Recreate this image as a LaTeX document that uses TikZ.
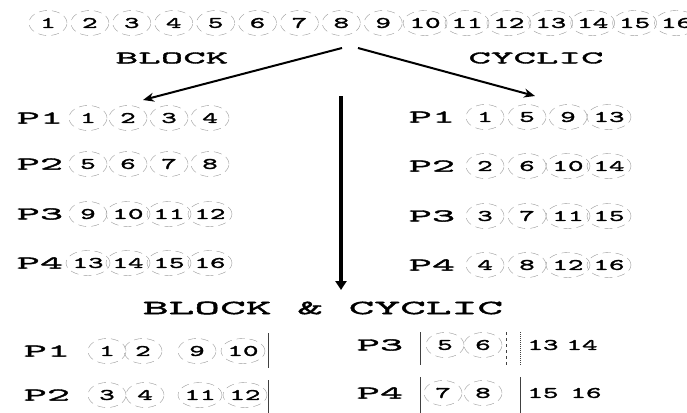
\documentclass[tikz,border=0pt]{standalone}
\usepackage{fontspec}
\usepackage{tikz}
\usetikzlibrary{shapes.geometric,arrows.meta}
\newfontfamily\wideletters[FakeStretch=2.45,FakeBold=2]{lmmono10-regular.otf}
\newfontfamily\widedigits[FakeStretch=1.85,FakeBold=2]{lmmono10-regular.otf}

\begin{document}
\begin{tikzpicture}[x=1pt,y=-1pt,
  num/.style={font=\widedigits\fontsize{16pt}{16pt}\selectfont,inner sep=0pt},
  ring/.style={num,ellipse,draw=black!40,line width=.4pt,dash pattern=on 8pt off 5pt,
    minimum width=38pt,minimum height=25pt},
  lbl/.style={font=\wideletters\fontsize{18pt}{18pt}\selectfont,inner sep=0pt},
  head/.style={font=\wideletters\fontsize{17.5pt}{18pt}\selectfont,inner sep=0pt},
  bighead/.style={font=\wideletters\fontsize{20pt}{20pt}\selectfont,inner sep=0pt},
  arr/.style={line width=2pt,-{Stealth[length=11pt,width=9pt]}},
  down/.style={line width=3.5pt,-{Triangle[length=9pt,width=11pt]}},
  sep/.style={draw=black!75,line width=1pt}]
\useasboundingbox (0,0) rectangle (687,412);

% the sixteen elements
\foreach \k in {1,...,16}
  \node[ring] (t\k) at ({48+(\k-1)*41.9},23) {\k};

\node[head] (blk) at (172,58) {BLOCK};
\node[head] (cyc) at (536,58) {CYCLIC};

\coordinate (fl) at (342,48);
\coordinate (fr) at (358,48);
\coordinate (tl) at (143,100);
\coordinate (tr) at (535,96);
\coordinate (vs) at (341,96);
\coordinate (vt) at (341,290);
\draw[arr] (fl) -- (tl);
\draw[arr] (fr) -- (tr);
\draw[down] (vs) -- (vt);

% block
\foreach \r/\y in {1/118,2/164,3/214,4/263}{
  \node[lbl] (bp\r) at (40,\y) {P\r};
  \foreach \c/\x in {1/88,2/128,3/169,4/210}{
    \pgfmathtruncatemacro\n{4*(\r-1)+\c}
    \node[ring] (b\r\c) at (\x,\y) {\n};
  }
}

% cyclic
\foreach \r/\y in {1/117,2/166,3/216,4/265}{
  \node[lbl] (cp\r) at (432,\y) {P\r};
  \foreach \c/\x in {1/485,2/527,3/568,4/609}{
    \pgfmathtruncatemacro\n{\r+4*(\c-1)}
    \node[ring] (c\r\c) at (\x,\y) {\n};
  }
}

% block & cyclic
\node[bighead] (bc) at (323,308) {BLOCK \& CYCLIC};
\node[lbl] (mp1) at (47,351) {P1};
\node[lbl] (mp2) at (47,395) {P2};
\node[lbl] (mp3) at (380,345) {P3};
\node[lbl] (mp4) at (380,393) {P4};
\foreach \n/\x/\y in {1/107/351,2/143/351,9/197/351,10/243/351,
  3/107/395,4/145/395,11/200/395,12/245/395,
  5/445/345,6/483/345,7/443/393,8/483/393}
  \node[ring] (m\n) at (\x,\y) {\n};
\foreach \n/\x/\y in {13/543/345,14/582/345,15/543/393,16/586/393}
  \node[num] (m\n) at (\x,\y) {\n};

\draw[sep] (268,333) -- (268,368) (268,380) -- (268,415);
\draw[sep] (420,332) -- (420,365) (420,377) -- (420,415);
\draw[sep,dashed] (506,332) -- (506,365);
\draw[sep,densely dotted] (520,332) -- (520,365);
\draw[sep] (520,377) -- (520,415);
\end{tikzpicture}
\end{document}
